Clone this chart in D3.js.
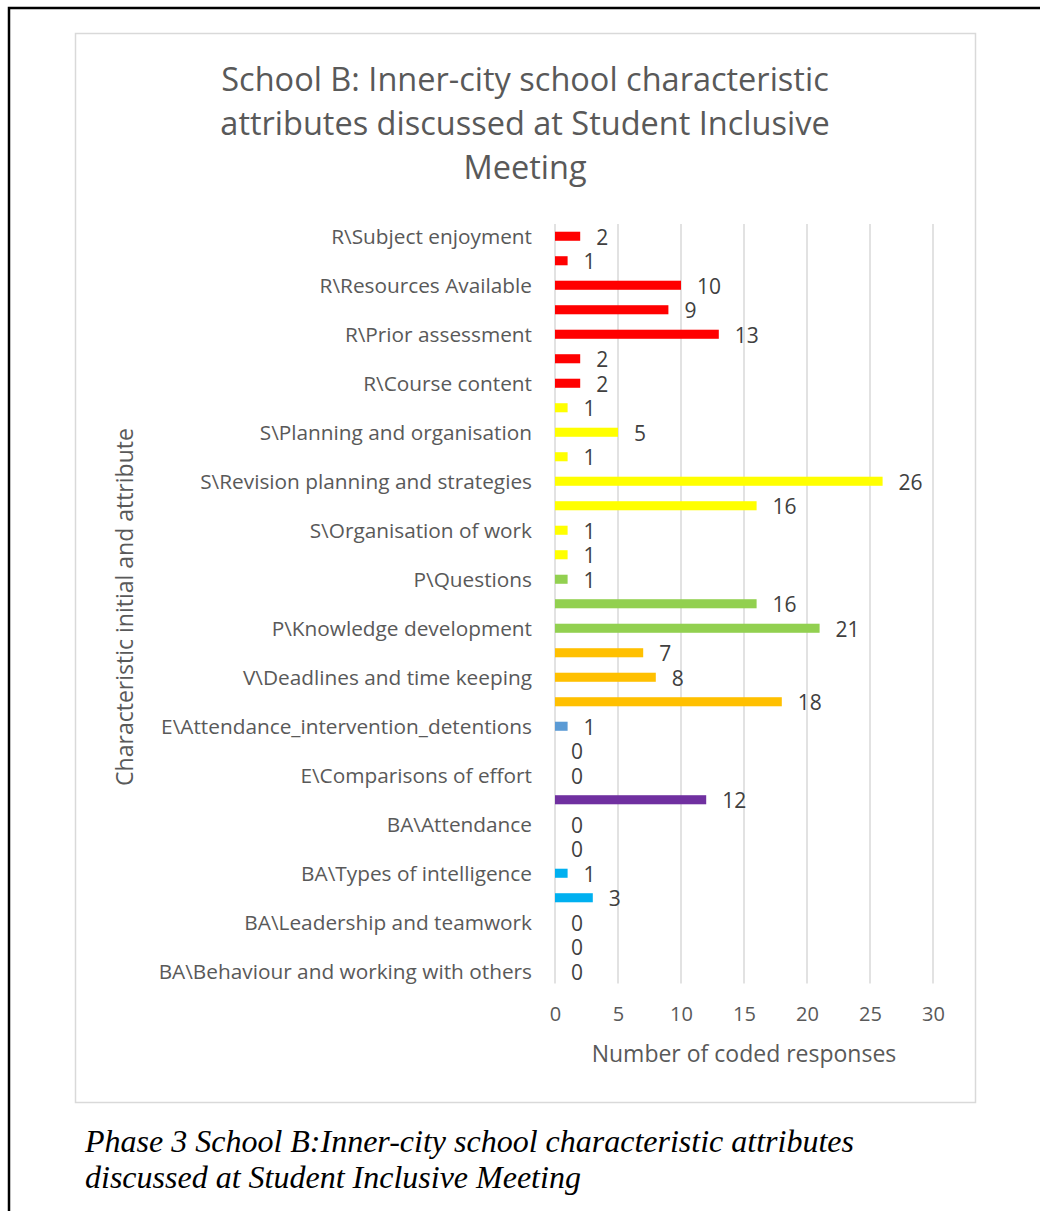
<!DOCTYPE html>
<html><head><meta charset="utf-8">
<script src="https://cdn.jsdelivr.net/npm/d3@7"></script>
<style>body{margin:0;background:#fff}svg{display:block}</style>
</head><body>
<svg id="c" width="1040" height="1211"></svg>
<script>
const categories = ["R\\Subject enjoyment","","R\\Resources Available","","R\\Prior assessment","","R\\Course content","",
"S\\Planning and organisation","","S\\Revision planning and strategies","","S\\Organisation of work","",
"P\\Questions","","P\\Knowledge development","","V\\Deadlines and time keeping","",
"E\\Attendance_intervention_detentions","","E\\Comparisons of effort","","BA\\Attendance","",
"BA\\Types of intelligence","","BA\\Leadership and teamwork","","BA\\Behaviour and working with others"];
const values = [2,1,10,9,13,2,2,1,5,1,26,16,1,1,1,16,21,7,8,18,1,0,0,12,0,0,1,3,0,0,0];
const groups = ["R","R","R","R","R","R","R","S","S","S","S","S","S","S","P","P","P","V","V","V","E","E","E","BA1","BA1","BA1","BA2","BA2","BA2","BA2","BA2"];
const groupColors = {R:"#FF0000",S:"#FFFF00",P:"#92D050",V:"#FFC000",E:"#5B9BD5",BA1:"#7030A0",BA2:"#00B0F0"};
const xTicks = [0,5,10,15,20,25,30];
const titleLines = ["School B: Inner-city school characteristic","attributes discussed at Student Inclusive","Meeting"];
const captionLines = ["Phase 3 School B:Inner-city school characteristic attributes","discussed at Student Inclusive Meeting"];

const svg = d3.select("#c");
const font = "'Open Sans', sans-serif";
// outer border
svg.append("rect").attr("x",9).attr("y",8).attr("width",1060).attr("height",1240)
  .attr("fill","none").attr("stroke","#000").attr("stroke-width",2.5);
// chart box
svg.append("rect").attr("x",75.5).attr("y",33.5).attr("width",900).attr("height",1069)
  .attr("fill","#fff").attr("stroke","#d9d9d9").attr("stroke-width",1.5);

const x = d3.scaleLinear().domain([0,30]).range([555,933]);
const y = d3.scaleBand().domain(d3.range(values.length)).range([224,983.5]).paddingInner(0.63).paddingOuter(0.315);

// gridlines
svg.append("g").selectAll("line").data(xTicks).join("line")
  .attr("x1",d=>x(d)).attr("x2",d=>x(d)).attr("y1",224).attr("y2",983.5)
  .attr("stroke","#d9d9d9").attr("stroke-width",1.5);

// x axis tick labels
const xa = svg.append("g").attr("transform","translate(0,1014)")
  .call(d3.axisBottom(x).tickValues(xTicks).tickSize(0).tickPadding(0));
xa.select(".domain").remove();
xa.selectAll("text").attr("font-family",font).attr("font-size",20).attr("fill","#595959").attr("dy","0.35em").attr("y",0);

// bars
svg.append("g").selectAll("rect").data(values).join("rect")
  .attr("x",x(0)).attr("y",(d,i)=>y(i)).attr("width",d=>x(d)-x(0)).attr("height",y.bandwidth())
  .attr("fill",(d,i)=>groupColors[groups[i]]);

// value labels
svg.append("g").selectAll("text").data(values).join("text")
  .attr("x",d=>x(d)+16).attr("y",(d,i)=>y(i)+y.bandwidth()/2+1).attr("dy","0.35em")
  .attr("font-family",font).attr("font-size",21).attr("fill","#404040").text(d=>d);

// category labels
svg.append("g").selectAll("text").data(categories).join("text")
  .attr("x",532).attr("y",(d,i)=>y(i)+y.bandwidth()/2).attr("dy","0.35em").attr("text-anchor","end")
  .attr("font-family",font).attr("font-size",20.8).attr("fill","#595959").text(d=>d);

// title
svg.append("g").selectAll("text").data(titleLines).join("text")
  .attr("x",525).attr("y",(d,i)=>80+i*44).attr("dy","0.35em").attr("text-anchor","middle")
  .attr("font-family",font).attr("font-size",32.5).attr("fill","#595959").text(d=>d);

// axis titles
svg.append("text").attr("x",744).attr("y",1054).attr("dy","0.35em").attr("text-anchor","middle")
  .attr("font-family",font).attr("font-size",23).attr("fill","#595959").text("Number of coded responses");
svg.append("text").attr("transform","translate(125,607) rotate(-90)").attr("dy","0.35em").attr("text-anchor","middle")
  .attr("font-family",font).attr("font-size",23).attr("fill","#595959").text("Characteristic initial and attribute");

// caption
svg.append("g").selectAll("text").data(captionLines).join("text")
  .attr("x",85).attr("y",(d,i)=>1141+i*36).attr("dy","0.35em")
  .attr("font-family","'Liberation Serif', serif").attr("font-style","italic").attr("font-size",32).attr("fill","#000").text(d=>d);
</script>
</body></html>
